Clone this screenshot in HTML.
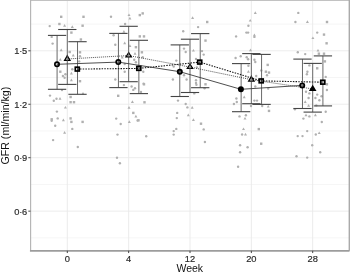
<!DOCTYPE html>
<html><head><meta charset="utf-8"><style>svg text{font-family:"Liberation Sans",sans-serif}html,body{margin:0;padding:0;background:#fff;overflow:hidden}body{width:350px;height:273px}</style></head><body>
<svg width="350" height="273" viewBox="0 0 350 273" style="display:block;will-change:transform">
<rect x="0" y="0" width="350" height="273" fill="#fff"/>
<line x1="30.5" x2="349.5" y1="237.88" y2="237.88" stroke="#f3f3f3" stroke-width="0.8"/>
<line x1="30.5" x2="349.5" y1="184.43" y2="184.43" stroke="#f3f3f3" stroke-width="0.8"/>
<line x1="30.5" x2="349.5" y1="130.98" y2="130.98" stroke="#f3f3f3" stroke-width="0.8"/>
<line x1="30.5" x2="349.5" y1="77.52" y2="77.52" stroke="#f3f3f3" stroke-width="0.8"/>
<line x1="30.5" x2="349.5" y1="24.08" y2="24.08" stroke="#f3f3f3" stroke-width="0.8"/>
<line x1="30.5" x2="349.5" y1="211.15" y2="211.15" stroke="#ebebeb" stroke-width="0.9"/>
<line x1="30.5" x2="349.5" y1="157.70" y2="157.70" stroke="#ebebeb" stroke-width="0.9"/>
<line x1="30.5" x2="349.5" y1="104.25" y2="104.25" stroke="#ebebeb" stroke-width="0.9"/>
<line x1="30.5" x2="349.5" y1="50.80" y2="50.80" stroke="#ebebeb" stroke-width="0.9"/>
<line x1="67.30" x2="67.30" y1="0.5" y2="250.75" stroke="#e9e9e9" stroke-width="0.9"/>
<line x1="128.65" x2="128.65" y1="0.5" y2="250.75" stroke="#e9e9e9" stroke-width="0.9"/>
<line x1="190.00" x2="190.00" y1="0.5" y2="250.75" stroke="#e9e9e9" stroke-width="0.9"/>
<line x1="251.35" x2="251.35" y1="0.5" y2="250.75" stroke="#e9e9e9" stroke-width="0.9"/>
<line x1="312.70" x2="312.70" y1="0.5" y2="250.75" stroke="#e9e9e9" stroke-width="0.9"/>
<line x1="30.5" x2="350" y1="0.5" y2="0.5" stroke="#c2c2c2" stroke-width="1"/>
<line x1="349.3" x2="349.3" y1="0" y2="250.75" stroke="#aaaaaa" stroke-width="1.4"/>
<rect x="60.0" y="15.6" width="2.4" height="2.4" fill="#b0b0b0"/>
<rect x="82.3" y="15.6" width="2.4" height="2.4" fill="#b0b0b0"/>
<circle cx="49.7" cy="26.1" r="1.2" fill="#b0b0b0"/>
<rect x="58.2" y="22.8" width="2.4" height="2.4" fill="#b0b0b0"/>
<polygon points="64.6,24.0 66.1,26.7 63.1,26.7" fill="#b0b0b0"/>
<polygon points="72.3,25.2 73.8,27.9 70.8,27.9" fill="#b0b0b0"/>
<rect x="81.4" y="24.5" width="2.4" height="2.4" fill="#b0b0b0"/>
<rect x="70.2" y="31.4" width="2.4" height="2.4" fill="#b0b0b0"/>
<circle cx="51.7" cy="36.9" r="1.2" fill="#b0b0b0"/>
<circle cx="52.6" cy="43.6" r="1.2" fill="#b0b0b0"/>
<rect x="79.7" y="38.3" width="2.4" height="2.4" fill="#b0b0b0"/>
<polygon points="61.2,48.6 62.7,51.3 59.7,51.3" fill="#b0b0b0"/>
<rect x="68.5" y="50.8" width="2.4" height="2.4" fill="#b0b0b0"/>
<rect x="78.8" y="51.1" width="2.4" height="2.4" fill="#b0b0b0"/>
<polygon points="73.2,53.7 74.7,56.4 71.7,56.4" fill="#b0b0b0"/>
<circle cx="80.0" cy="56.3" r="1.2" fill="#b0b0b0"/>
<polygon points="60.3,58.0 61.8,60.7 58.8,60.7" fill="#b0b0b0"/>
<circle cx="79.2" cy="61.4" r="1.2" fill="#b0b0b0"/>
<circle cx="72.3" cy="69.2" r="1.2" fill="#b0b0b0"/>
<rect x="59.1" y="70.5" width="2.4" height="2.4" fill="#b0b0b0"/>
<circle cx="65.4" cy="74.3" r="1.2" fill="#b0b0b0"/>
<circle cx="62.9" cy="76.0" r="1.2" fill="#b0b0b0"/>
<circle cx="64.6" cy="77.7" r="1.2" fill="#b0b0b0"/>
<polygon points="71.4,71.7 72.9,74.4 69.9,74.4" fill="#b0b0b0"/>
<polygon points="71.4,78.6 72.9,81.3 69.9,81.3" fill="#b0b0b0"/>
<rect x="78.8" y="80.0" width="2.4" height="2.4" fill="#b0b0b0"/>
<circle cx="50.0" cy="95.6" r="1.2" fill="#b0b0b0"/>
<circle cx="53.8" cy="100.8" r="1.2" fill="#b0b0b0"/>
<circle cx="56.5" cy="98.7" r="1.2" fill="#b0b0b0"/>
<polygon points="60.0,97.0 61.5,99.7 58.5,99.7" fill="#b0b0b0"/>
<circle cx="62.0" cy="90.1" r="1.2" fill="#b0b0b0"/>
<rect x="69.4" y="95.8" width="2.4" height="2.4" fill="#b0b0b0"/>
<rect x="69.4" y="101.0" width="2.4" height="2.4" fill="#b0b0b0"/>
<rect x="72.8" y="101.0" width="2.4" height="2.4" fill="#b0b0b0"/>
<polygon points="83.0,91.9 84.5,94.6 81.5,94.6" fill="#b0b0b0"/>
<polygon points="65.4,105.9 66.9,108.6 63.9,108.6" fill="#b0b0b0"/>
<circle cx="56.9" cy="111.6" r="1.2" fill="#b0b0b0"/>
<rect x="50.5" y="118.1" width="2.4" height="2.4" fill="#b0b0b0"/>
<circle cx="51.7" cy="120.7" r="1.2" fill="#b0b0b0"/>
<circle cx="57.7" cy="118.4" r="1.2" fill="#b0b0b0"/>
<polygon points="63.4,118.5 64.9,121.2 61.9,121.2" fill="#b0b0b0"/>
<rect x="69.4" y="117.2" width="2.4" height="2.4" fill="#b0b0b0"/>
<rect x="70.2" y="120.7" width="2.4" height="2.4" fill="#b0b0b0"/>
<rect x="81.4" y="120.7" width="2.4" height="2.4" fill="#b0b0b0"/>
<circle cx="55.2" cy="125.7" r="1.2" fill="#b0b0b0"/>
<circle cx="72.3" cy="128.9" r="1.2" fill="#b0b0b0"/>
<polygon points="64.6,131.0 66.1,133.7 63.1,133.7" fill="#b0b0b0"/>
<circle cx="53.1" cy="140.1" r="1.2" fill="#b0b0b0"/>
<circle cx="77.8" cy="147.0" r="1.2" fill="#b0b0b0"/>
<circle cx="111.0" cy="16.8" r="1.2" fill="#b0b0b0"/>
<polygon points="129.0,13.4 130.5,16.1 127.5,16.1" fill="#b0b0b0"/>
<polygon points="129.9,16.8 131.4,19.5 128.4,19.5" fill="#b0b0b0"/>
<rect x="138.6" y="13.9" width="2.4" height="2.4" fill="#b0b0b0"/>
<rect x="141.5" y="12.2" width="2.4" height="2.4" fill="#b0b0b0"/>
<circle cx="125.1" cy="24.0" r="1.2" fill="#b0b0b0"/>
<polygon points="123.9,30.0 125.4,32.7 122.4,32.7" fill="#b0b0b0"/>
<circle cx="113.6" cy="35.2" r="1.2" fill="#b0b0b0"/>
<rect x="138.6" y="35.2" width="2.4" height="2.4" fill="#b0b0b0"/>
<rect x="142.8" y="35.2" width="2.4" height="2.4" fill="#b0b0b0"/>
<polygon points="124.7,41.5 126.2,44.2 123.2,44.2" fill="#b0b0b0"/>
<circle cx="115.3" cy="44.7" r="1.2" fill="#b0b0b0"/>
<polygon points="129.9,44.3 131.4,47.0 128.4,47.0" fill="#b0b0b0"/>
<rect x="134.7" y="46.0" width="2.4" height="2.4" fill="#b0b0b0"/>
<polygon points="135.0,52.0 136.5,54.7 133.5,54.7" fill="#b0b0b0"/>
<rect x="140.7" y="51.1" width="2.4" height="2.4" fill="#b0b0b0"/>
<circle cx="134.2" cy="59.7" r="1.2" fill="#b0b0b0"/>
<circle cx="142.7" cy="57.2" r="1.2" fill="#b0b0b0"/>
<polygon points="122.2,55.8 123.7,58.5 120.7,58.5" fill="#b0b0b0"/>
<circle cx="124.7" cy="64.0" r="1.2" fill="#b0b0b0"/>
<circle cx="135.9" cy="62.3" r="1.2" fill="#b0b0b0"/>
<circle cx="124.7" cy="71.7" r="1.2" fill="#b0b0b0"/>
<circle cx="143.3" cy="71.7" r="1.2" fill="#b0b0b0"/>
<circle cx="115.3" cy="79.5" r="1.2" fill="#b0b0b0"/>
<circle cx="143.6" cy="83.7" r="1.2" fill="#b0b0b0"/>
<circle cx="123.9" cy="85.1" r="1.2" fill="#b0b0b0"/>
<circle cx="131.6" cy="86.5" r="1.2" fill="#b0b0b0"/>
<circle cx="135.0" cy="88.2" r="1.2" fill="#b0b0b0"/>
<circle cx="133.3" cy="89.9" r="1.2" fill="#b0b0b0"/>
<rect x="142.8" y="83.1" width="2.4" height="2.4" fill="#b0b0b0"/>
<rect x="117.0" y="94.6" width="2.4" height="2.4" fill="#b0b0b0"/>
<circle cx="141.0" cy="92.0" r="1.2" fill="#b0b0b0"/>
<polygon points="132.4,100.3 133.9,103.0 130.9,103.0" fill="#b0b0b0"/>
<rect x="143.3" y="101.1" width="2.4" height="2.4" fill="#b0b0b0"/>
<polygon points="129.0,106.1 130.5,108.8 127.5,108.8" fill="#b0b0b0"/>
<rect x="132.1" y="111.7" width="2.4" height="2.4" fill="#b0b0b0"/>
<polygon points="135.9,114.7 137.4,117.4 134.4,117.4" fill="#b0b0b0"/>
<rect x="137.3" y="119.1" width="2.4" height="2.4" fill="#b0b0b0"/>
<circle cx="116.2" cy="118.6" r="1.2" fill="#b0b0b0"/>
<polygon points="129.3,120.3 130.8,123.0 127.8,123.0" fill="#b0b0b0"/>
<circle cx="120.7" cy="124.0" r="1.2" fill="#b0b0b0"/>
<circle cx="137.6" cy="120.5" r="1.2" fill="#b0b0b0"/>
<circle cx="117.5" cy="134.6" r="1.2" fill="#b0b0b0"/>
<circle cx="146.2" cy="136.3" r="1.2" fill="#b0b0b0"/>
<circle cx="117.0" cy="157.7" r="1.2" fill="#b0b0b0"/>
<circle cx="119.9" cy="163.2" r="1.2" fill="#b0b0b0"/>
<polygon points="192.6,16.3 194.1,19.0 191.1,19.0" fill="#b0b0b0"/>
<rect x="206.0" y="20.8" width="2.4" height="2.4" fill="#b0b0b0"/>
<circle cx="198.1" cy="27.1" r="1.2" fill="#b0b0b0"/>
<circle cx="183.2" cy="31.2" r="1.2" fill="#b0b0b0"/>
<rect x="204.3" y="39.4" width="2.4" height="2.4" fill="#b0b0b0"/>
<circle cx="184.0" cy="48.6" r="1.2" fill="#b0b0b0"/>
<circle cx="185.7" cy="52.0" r="1.2" fill="#b0b0b0"/>
<polygon points="193.4,48.9 194.9,51.6 191.9,51.6" fill="#b0b0b0"/>
<circle cx="202.0" cy="51.1" r="1.2" fill="#b0b0b0"/>
<circle cx="203.7" cy="54.6" r="1.2" fill="#b0b0b0"/>
<circle cx="176.3" cy="60.6" r="1.2" fill="#b0b0b0"/>
<circle cx="196.0" cy="58.9" r="1.2" fill="#b0b0b0"/>
<circle cx="173.7" cy="66.6" r="1.2" fill="#b0b0b0"/>
<circle cx="196.9" cy="67.4" r="1.2" fill="#b0b0b0"/>
<circle cx="184.0" cy="75.2" r="1.2" fill="#b0b0b0"/>
<circle cx="172.9" cy="79.5" r="1.2" fill="#b0b0b0"/>
<circle cx="186.6" cy="79.5" r="1.2" fill="#b0b0b0"/>
<circle cx="196.0" cy="80.3" r="1.2" fill="#b0b0b0"/>
<circle cx="196.0" cy="82.9" r="1.2" fill="#b0b0b0"/>
<rect x="204.3" y="83.1" width="2.4" height="2.4" fill="#b0b0b0"/>
<circle cx="196.4" cy="84.8" r="1.2" fill="#b0b0b0"/>
<circle cx="204.6" cy="88.2" r="1.2" fill="#b0b0b0"/>
<circle cx="194.3" cy="93.4" r="1.2" fill="#b0b0b0"/>
<circle cx="178.0" cy="100.6" r="1.2" fill="#b0b0b0"/>
<circle cx="185.7" cy="104.0" r="1.2" fill="#b0b0b0"/>
<circle cx="187.4" cy="107.4" r="1.2" fill="#b0b0b0"/>
<polygon points="192.2,106.1 193.7,108.8 190.7,108.8" fill="#b0b0b0"/>
<circle cx="177.2" cy="112.9" r="1.2" fill="#b0b0b0"/>
<polygon points="188.3,113.5 189.8,116.2 186.8,116.2" fill="#b0b0b0"/>
<circle cx="176.8" cy="118.1" r="1.2" fill="#b0b0b0"/>
<polygon points="193.4,118.3 194.9,121.0 191.9,121.0" fill="#b0b0b0"/>
<rect x="199.8" y="122.5" width="2.4" height="2.4" fill="#b0b0b0"/>
<circle cx="176.3" cy="128.9" r="1.2" fill="#b0b0b0"/>
<circle cx="173.7" cy="131.1" r="1.2" fill="#b0b0b0"/>
<circle cx="173.7" cy="134.6" r="1.2" fill="#b0b0b0"/>
<circle cx="203.7" cy="129.4" r="1.2" fill="#b0b0b0"/>
<circle cx="204.9" cy="142.0" r="1.2" fill="#b0b0b0"/>
<polygon points="255.3,11.2 256.8,13.9 253.8,13.9" fill="#b0b0b0"/>
<polygon points="250.2,18.9 251.7,21.6 248.7,21.6" fill="#b0b0b0"/>
<circle cx="248.4" cy="25.7" r="1.2" fill="#b0b0b0"/>
<circle cx="246.4" cy="32.6" r="1.2" fill="#b0b0b0"/>
<circle cx="248.1" cy="32.6" r="1.2" fill="#b0b0b0"/>
<circle cx="236.1" cy="36.4" r="1.2" fill="#b0b0b0"/>
<polygon points="254.4,33.5 255.9,36.2 252.9,36.2" fill="#b0b0b0"/>
<circle cx="254.4" cy="36.9" r="1.2" fill="#b0b0b0"/>
<polygon points="250.5,48.6 252.0,51.3 249.0,51.3" fill="#b0b0b0"/>
<circle cx="235.6" cy="58.0" r="1.2" fill="#b0b0b0"/>
<circle cx="240.7" cy="56.3" r="1.2" fill="#b0b0b0"/>
<circle cx="246.7" cy="57.2" r="1.2" fill="#b0b0b0"/>
<circle cx="248.1" cy="59.2" r="1.2" fill="#b0b0b0"/>
<circle cx="254.4" cy="59.7" r="1.2" fill="#b0b0b0"/>
<circle cx="255.3" cy="62.0" r="1.2" fill="#b0b0b0"/>
<circle cx="248.4" cy="65.7" r="1.2" fill="#b0b0b0"/>
<rect x="266.5" y="63.7" width="2.4" height="2.4" fill="#b0b0b0"/>
<circle cx="261.3" cy="70.5" r="1.2" fill="#b0b0b0"/>
<rect x="264.7" y="70.5" width="2.4" height="2.4" fill="#b0b0b0"/>
<rect x="267.8" y="71.4" width="2.4" height="2.4" fill="#b0b0b0"/>
<polygon points="248.4,70.0 249.9,72.7 246.9,72.7" fill="#b0b0b0"/>
<circle cx="256.2" cy="76.0" r="1.2" fill="#b0b0b0"/>
<circle cx="267.0" cy="75.2" r="1.2" fill="#b0b0b0"/>
<polygon points="244.2,95.5 245.7,98.2 242.7,98.2" fill="#b0b0b0"/>
<circle cx="255.3" cy="86.5" r="1.2" fill="#b0b0b0"/>
<circle cx="268.2" cy="88.6" r="1.2" fill="#b0b0b0"/>
<circle cx="236.4" cy="98.5" r="1.2" fill="#b0b0b0"/>
<circle cx="236.8" cy="102.0" r="1.2" fill="#b0b0b0"/>
<circle cx="233.9" cy="104.0" r="1.2" fill="#b0b0b0"/>
<circle cx="254.4" cy="100.6" r="1.2" fill="#b0b0b0"/>
<circle cx="257.0" cy="100.6" r="1.2" fill="#b0b0b0"/>
<circle cx="251.0" cy="106.0" r="1.2" fill="#b0b0b0"/>
<circle cx="262.2" cy="106.0" r="1.2" fill="#b0b0b0"/>
<polygon points="268.2,104.9 269.7,107.6 266.7,107.6" fill="#b0b0b0"/>
<rect x="267.8" y="109.7" width="2.4" height="2.4" fill="#b0b0b0"/>
<circle cx="239.5" cy="116.4" r="1.2" fill="#b0b0b0"/>
<circle cx="245.9" cy="115.2" r="1.2" fill="#b0b0b0"/>
<polygon points="245.0,116.9 246.5,119.6 243.5,119.6" fill="#b0b0b0"/>
<polygon points="243.5,127.4 245.0,130.1 242.0,130.1" fill="#b0b0b0"/>
<rect x="257.6" y="127.9" width="2.4" height="2.4" fill="#b0b0b0"/>
<circle cx="242.1" cy="134.5" r="1.2" fill="#b0b0b0"/>
<polygon points="245.5,132.8 247.0,135.5 244.0,135.5" fill="#b0b0b0"/>
<rect x="260.0" y="142.5" width="2.4" height="2.4" fill="#b0b0b0"/>
<circle cx="240.1" cy="145.2" r="1.2" fill="#b0b0b0"/>
<circle cx="247.6" cy="147.2" r="1.2" fill="#b0b0b0"/>
<circle cx="240.1" cy="152.2" r="1.2" fill="#b0b0b0"/>
<circle cx="238.1" cy="166.7" r="1.2" fill="#b0b0b0"/>
<circle cx="298.3" cy="12.9" r="1.2" fill="#b0b0b0"/>
<circle cx="295.4" cy="22.0" r="1.2" fill="#b0b0b0"/>
<polygon points="307.4,20.3 308.9,23.0 305.9,23.0" fill="#b0b0b0"/>
<rect x="325.8" y="20.8" width="2.4" height="2.4" fill="#b0b0b0"/>
<circle cx="317.2" cy="32.6" r="1.2" fill="#b0b0b0"/>
<rect x="322.8" y="33.4" width="2.4" height="2.4" fill="#b0b0b0"/>
<polygon points="312.9,36.4 314.4,39.1 311.4,39.1" fill="#b0b0b0"/>
<rect x="325.4" y="42.1" width="2.4" height="2.4" fill="#b0b0b0"/>
<circle cx="297.8" cy="52.3" r="1.2" fill="#b0b0b0"/>
<circle cx="305.2" cy="54.1" r="1.2" fill="#b0b0b0"/>
<polygon points="318.0,48.9 319.5,51.6 316.5,51.6" fill="#b0b0b0"/>
<rect x="317.7" y="52.5" width="2.4" height="2.4" fill="#b0b0b0"/>
<rect x="322.8" y="52.5" width="2.4" height="2.4" fill="#b0b0b0"/>
<rect x="323.7" y="60.2" width="2.4" height="2.4" fill="#b0b0b0"/>
<circle cx="309.4" cy="65.4" r="1.2" fill="#b0b0b0"/>
<circle cx="307.4" cy="71.7" r="1.2" fill="#b0b0b0"/>
<circle cx="306.9" cy="74.3" r="1.2" fill="#b0b0b0"/>
<rect x="316.0" y="67.1" width="2.4" height="2.4" fill="#b0b0b0"/>
<circle cx="325.7" cy="76.9" r="1.2" fill="#b0b0b0"/>
<rect x="325.7" y="83.1" width="2.4" height="2.4" fill="#b0b0b0"/>
<circle cx="326.9" cy="90.0" r="1.2" fill="#b0b0b0"/>
<circle cx="306.0" cy="91.7" r="1.2" fill="#b0b0b0"/>
<circle cx="309.4" cy="93.4" r="1.2" fill="#b0b0b0"/>
<circle cx="317.2" cy="94.6" r="1.2" fill="#b0b0b0"/>
<circle cx="308.6" cy="98.0" r="1.2" fill="#b0b0b0"/>
<circle cx="315.4" cy="98.0" r="1.2" fill="#b0b0b0"/>
<polygon points="305.2,100.3 306.7,103.0 303.7,103.0" fill="#b0b0b0"/>
<circle cx="319.4" cy="100.2" r="1.2" fill="#b0b0b0"/>
<circle cx="321.5" cy="96.3" r="1.2" fill="#b0b0b0"/>
<polygon points="308.6,104.0 310.1,106.7 307.1,106.7" fill="#b0b0b0"/>
<circle cx="316.3" cy="105.4" r="1.2" fill="#b0b0b0"/>
<circle cx="294.9" cy="109.2" r="1.2" fill="#b0b0b0"/>
<circle cx="325.7" cy="111.7" r="1.2" fill="#b0b0b0"/>
<polygon points="306.0,113.5 307.5,116.2 304.5,116.2" fill="#b0b0b0"/>
<circle cx="309.4" cy="116.4" r="1.2" fill="#b0b0b0"/>
<polygon points="315.4,113.5 316.9,116.2 313.9,116.2" fill="#b0b0b0"/>
<circle cx="303.4" cy="118.6" r="1.2" fill="#b0b0b0"/>
<circle cx="321.8" cy="122.0" r="1.2" fill="#b0b0b0"/>
<circle cx="307.2" cy="131.1" r="1.2" fill="#b0b0b0"/>
<circle cx="315.8" cy="134.5" r="1.2" fill="#b0b0b0"/>
<polygon points="319.2,131.4 320.7,134.1 317.7,134.1" fill="#b0b0b0"/>
<circle cx="297.7" cy="136.1" r="1.2" fill="#b0b0b0"/>
<circle cx="302.5" cy="136.1" r="1.2" fill="#b0b0b0"/>
<circle cx="312.2" cy="145.2" r="1.2" fill="#b0b0b0"/>
<circle cx="320.2" cy="152.2" r="1.2" fill="#b0b0b0"/>
<circle cx="296.5" cy="156.2" r="1.2" fill="#b0b0b0"/>
<circle cx="307.2" cy="157.6" r="1.2" fill="#b0b0b0"/>
<line x1="57.08" x2="57.08" y1="35.4" y2="89.3" stroke="#6a6a6a" stroke-width="1"/>
<line x1="47.93" x2="66.23" y1="35.4" y2="35.4" stroke="#444" stroke-width="1.1"/>
<line x1="47.93" x2="66.23" y1="89.3" y2="89.3" stroke="#444" stroke-width="1.1"/>
<line x1="67.30" x2="67.30" y1="29.5" y2="84.4" stroke="#6a6a6a" stroke-width="1"/>
<line x1="58.15" x2="76.45" y1="29.5" y2="29.5" stroke="#444" stroke-width="1.1"/>
<line x1="58.15" x2="76.45" y1="84.4" y2="84.4" stroke="#444" stroke-width="1.1"/>
<line x1="77.52" x2="77.52" y1="41.7" y2="94.3" stroke="#6a6a6a" stroke-width="1"/>
<line x1="68.37" x2="86.67" y1="41.7" y2="41.7" stroke="#444" stroke-width="1.1"/>
<line x1="68.37" x2="86.67" y1="94.3" y2="94.3" stroke="#444" stroke-width="1.1"/>
<line x1="118.43" x2="118.43" y1="33.4" y2="87.6" stroke="#6a6a6a" stroke-width="1"/>
<line x1="109.28" x2="127.58" y1="33.4" y2="33.4" stroke="#444" stroke-width="1.1"/>
<line x1="109.28" x2="127.58" y1="87.6" y2="87.6" stroke="#444" stroke-width="1.1"/>
<line x1="128.65" x2="128.65" y1="26.3" y2="81.7" stroke="#6a6a6a" stroke-width="1"/>
<line x1="119.50" x2="137.80" y1="26.3" y2="26.3" stroke="#444" stroke-width="1.1"/>
<line x1="119.50" x2="137.80" y1="81.7" y2="81.7" stroke="#444" stroke-width="1.1"/>
<line x1="138.87" x2="138.87" y1="40.3" y2="93.6" stroke="#6a6a6a" stroke-width="1"/>
<line x1="129.72" x2="148.02" y1="40.3" y2="40.3" stroke="#444" stroke-width="1.1"/>
<line x1="129.72" x2="148.02" y1="93.6" y2="93.6" stroke="#444" stroke-width="1.1"/>
<line x1="179.78" x2="179.78" y1="44.9" y2="96.5" stroke="#6a6a6a" stroke-width="1"/>
<line x1="170.63" x2="188.93" y1="44.9" y2="44.9" stroke="#444" stroke-width="1.1"/>
<line x1="170.63" x2="188.93" y1="96.5" y2="96.5" stroke="#444" stroke-width="1.1"/>
<line x1="190.00" x2="190.00" y1="39.2" y2="92.5" stroke="#6a6a6a" stroke-width="1"/>
<line x1="180.85" x2="199.15" y1="39.2" y2="39.2" stroke="#444" stroke-width="1.1"/>
<line x1="180.85" x2="199.15" y1="92.5" y2="92.5" stroke="#444" stroke-width="1.1"/>
<line x1="200.22" x2="200.22" y1="33.6" y2="87.7" stroke="#6a6a6a" stroke-width="1"/>
<line x1="191.07" x2="209.37" y1="33.6" y2="33.6" stroke="#444" stroke-width="1.1"/>
<line x1="191.07" x2="209.37" y1="87.7" y2="87.7" stroke="#444" stroke-width="1.1"/>
<line x1="241.13" x2="241.13" y1="63.6" y2="111.7" stroke="#6a6a6a" stroke-width="1"/>
<line x1="231.98" x2="250.28" y1="63.6" y2="63.6" stroke="#444" stroke-width="1.1"/>
<line x1="231.98" x2="250.28" y1="111.7" y2="111.7" stroke="#444" stroke-width="1.1"/>
<line x1="251.35" x2="251.35" y1="53.6" y2="103.7" stroke="#6a6a6a" stroke-width="1"/>
<line x1="242.20" x2="260.50" y1="53.6" y2="53.6" stroke="#444" stroke-width="1.1"/>
<line x1="242.20" x2="260.50" y1="103.7" y2="103.7" stroke="#444" stroke-width="1.1"/>
<line x1="261.57" x2="261.57" y1="54.4" y2="104.4" stroke="#6a6a6a" stroke-width="1"/>
<line x1="252.42" x2="270.72" y1="54.4" y2="54.4" stroke="#444" stroke-width="1.1"/>
<line x1="252.42" x2="270.72" y1="104.4" y2="104.4" stroke="#444" stroke-width="1.1"/>
<line x1="302.48" x2="302.48" y1="59.1" y2="108.5" stroke="#6a6a6a" stroke-width="1"/>
<line x1="293.33" x2="311.63" y1="59.1" y2="59.1" stroke="#444" stroke-width="1.1"/>
<line x1="293.33" x2="311.63" y1="108.5" y2="108.5" stroke="#444" stroke-width="1.1"/>
<line x1="312.70" x2="312.70" y1="63.4" y2="112.1" stroke="#6a6a6a" stroke-width="1"/>
<line x1="303.55" x2="321.85" y1="63.4" y2="63.4" stroke="#444" stroke-width="1.1"/>
<line x1="303.55" x2="321.85" y1="112.1" y2="112.1" stroke="#444" stroke-width="1.1"/>
<line x1="322.92" x2="322.92" y1="55.9" y2="105.9" stroke="#6a6a6a" stroke-width="1"/>
<line x1="313.77" x2="332.07" y1="55.9" y2="55.9" stroke="#444" stroke-width="1.1"/>
<line x1="313.77" x2="332.07" y1="105.9" y2="105.9" stroke="#444" stroke-width="1.1"/>
<polyline points="57.00,64.30 118.30,62.10 179.80,71.70 240.90,89.30 302.20,85.40" fill="none" stroke="#3a3a3a" stroke-width="0.9"/>
<polyline points="67.30,58.97 128.65,55.57 190.00,67.07 251.35,79.67 312.70,88.93" fill="none" stroke="#2a2a2a" stroke-width="0.9" stroke-dasharray="0.9,1.1"/>
<polyline points="77.30,69.10 138.80,68.40 199.70,62.10 261.20,80.90 322.80,82.20" fill="none" stroke="#1a1a1a" stroke-width="1.1" stroke-dasharray="1.5,1.2"/>
<circle cx="57.00" cy="64.30" r="2.15" fill="none" stroke="#000" stroke-width="1.7"/>
<circle cx="118.30" cy="62.10" r="2.15" fill="none" stroke="#000" stroke-width="1.7"/>
<circle cx="179.80" cy="71.70" r="2.15" fill="#555" stroke="#000" stroke-width="1.7"/>
<circle cx="240.90" cy="89.30" r="2.15" fill="#000" stroke="#000" stroke-width="1.7"/>
<circle cx="302.20" cy="85.40" r="2.15" fill="#777" stroke="#000" stroke-width="1.7"/>
<polygon points="67.30,54.60 71.10,61.00 63.50,61.00" fill="#000"/>
<polygon points="67.30,57.34 68.90,59.78 65.70,59.78" fill="#ddd"/>
<line x1="67.30" x2="67.30" y1="55.1" y2="60.9" stroke="#666" stroke-width="0.8"/>
<polygon points="128.65,51.60 132.45,57.40 124.85,57.40" fill="#000"/>
<polygon points="128.65,54.11 130.25,56.29 127.05,56.29" fill="#ddd"/>
<line x1="128.65" x2="128.65" y1="52.1" y2="57.3" stroke="#666" stroke-width="0.8"/>
<polygon points="190.00,62.90 193.80,69.00 186.20,69.00" fill="#000"/>
<polygon points="190.00,65.53 191.60,67.84 188.40,67.84" fill="#ddd"/>
<line x1="190.00" x2="190.00" y1="63.4" y2="68.9" stroke="#666" stroke-width="0.8"/>
<polygon points="251.35,75.30 255.15,81.70 247.55,81.70" fill="#000"/>
<polygon points="251.35,78.04 252.95,80.48 249.75,80.48" fill="#ddd"/>
<line x1="251.35" x2="251.35" y1="75.8" y2="81.6" stroke="#666" stroke-width="0.8"/>
<polygon points="312.70,84.70 316.50,90.90 308.90,90.90" fill="#000"/>
<rect x="75.30" y="67.20" width="4.0" height="3.8" fill="none" stroke="#000" stroke-width="1.7"/>
<rect x="136.80" y="66.50" width="4.0" height="3.8" fill="none" stroke="#000" stroke-width="1.7"/>
<rect x="197.70" y="60.20" width="4.0" height="3.8" fill="none" stroke="#000" stroke-width="1.7"/>
<rect x="259.20" y="79.00" width="4.0" height="3.8" fill="none" stroke="#000" stroke-width="1.7"/>
<rect x="320.80" y="80.30" width="4.0" height="3.8" fill="none" stroke="#000" stroke-width="1.7"/>
<line x1="30.6" x2="30.6" y1="0" y2="250.75" stroke="#b5b5b5" stroke-width="1.15"/>
<line x1="29.95" x2="349.5" y1="250.85" y2="250.85" stroke="#9c9c9c" stroke-width="1.8"/>
<line x1="28.3" x2="30.5" y1="211.15" y2="211.15" stroke="#444" stroke-width="1"/>
<line x1="28.3" x2="30.5" y1="157.70" y2="157.70" stroke="#444" stroke-width="1"/>
<line x1="28.3" x2="30.5" y1="104.25" y2="104.25" stroke="#444" stroke-width="1"/>
<line x1="28.3" x2="30.5" y1="50.80" y2="50.80" stroke="#444" stroke-width="1"/>
<line x1="67.30" x2="67.30" y1="250.75" y2="253.05" stroke="#444" stroke-width="1"/>
<line x1="128.65" x2="128.65" y1="250.75" y2="253.05" stroke="#444" stroke-width="1"/>
<line x1="190.00" x2="190.00" y1="250.75" y2="253.05" stroke="#444" stroke-width="1"/>
<line x1="251.35" x2="251.35" y1="250.75" y2="253.05" stroke="#444" stroke-width="1"/>
<line x1="312.70" x2="312.70" y1="250.75" y2="253.05" stroke="#444" stroke-width="1"/>
<text x="27" y="214.75" text-anchor="end" font-size="9.3" letter-spacing="-0.2" fill="#2a2a2a" stroke="#2a2a2a" stroke-width="0.18">0·6</text>
<text x="27" y="161.30" text-anchor="end" font-size="9.3" letter-spacing="-0.2" fill="#2a2a2a" stroke="#2a2a2a" stroke-width="0.18">0·9</text>
<text x="27" y="107.85" text-anchor="end" font-size="9.3" letter-spacing="-0.2" fill="#2a2a2a" stroke="#2a2a2a" stroke-width="0.18">1·2</text>
<text x="27" y="54.40" text-anchor="end" font-size="9.3" letter-spacing="-0.2" fill="#2a2a2a" stroke="#2a2a2a" stroke-width="0.18">1·5</text>
<text x="67.30" y="261.7" text-anchor="middle" font-size="9.3" fill="#2a2a2a" stroke="#2a2a2a" stroke-width="0.18">0</text>
<text x="128.65" y="261.7" text-anchor="middle" font-size="9.3" fill="#2a2a2a" stroke="#2a2a2a" stroke-width="0.18">4</text>
<text x="190.00" y="261.7" text-anchor="middle" font-size="9.3" fill="#2a2a2a" stroke="#2a2a2a" stroke-width="0.18">12</text>
<text x="251.35" y="261.7" text-anchor="middle" font-size="9.3" fill="#2a2a2a" stroke="#2a2a2a" stroke-width="0.18">20</text>
<text x="312.70" y="261.7" text-anchor="middle" font-size="9.3" fill="#2a2a2a" stroke="#2a2a2a" stroke-width="0.18">28</text>
<text x="189.8" y="271.8" text-anchor="middle" font-size="10.5" fill="#111">Week</text>
<text transform="translate(8.9,125.6) rotate(-90)" text-anchor="middle" font-size="10.6" fill="#111">GFR (ml/min/kg)</text>
</svg>
</body></html>
